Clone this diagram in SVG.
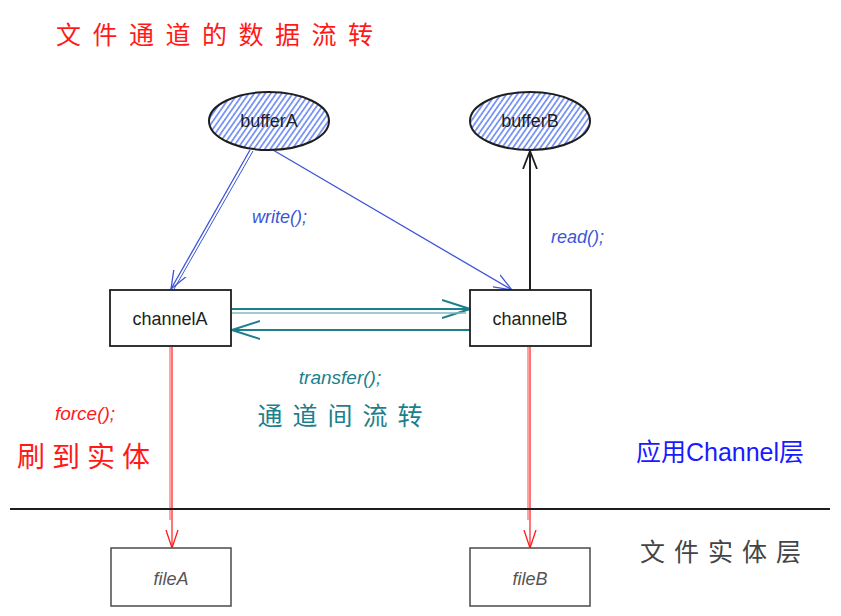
<svg xmlns="http://www.w3.org/2000/svg" width="841" height="616" viewBox="0 0 841 616">
<defs>
<pattern id="hatch" patternUnits="userSpaceOnUse" width="4.5" height="4.5" patternTransform="rotate(35)">
<rect x="0" y="0" width="1.8" height="4.5" fill="#7a95f5"/>
</pattern>
<marker id="mBlue" markerWidth="20" markerHeight="20" refX="18" refY="10" orient="auto" markerUnits="userSpaceOnUse">
<path d="M0,3 L18,10 L0,17" fill="none" stroke="#3d55d6" stroke-width="1.3"/>
</marker>
<marker id="mBlack" markerWidth="20" markerHeight="20" refX="18" refY="10" orient="auto" markerUnits="userSpaceOnUse">
<path d="M0,3 L18,10 L0,17" fill="none" stroke="#1e1e1e" stroke-width="1.8"/>
</marker>
<marker id="mTeal" markerWidth="30" markerHeight="24" refX="28" refY="12" orient="auto" markerUnits="userSpaceOnUse">
<path d="M0,3 L28,12 L0,21" fill="none" stroke="#1d7f8c" stroke-width="2"/>
</marker>
<marker id="mRed" markerWidth="20" markerHeight="20" refX="18" refY="10" orient="auto" markerUnits="userSpaceOnUse">
<path d="M0,4 L18,10 L0,16" fill="none" stroke="#ff1a1a" stroke-width="1.3"/>
</marker>
</defs>
<style>
text{font-family:"Liberation Sans","Noto Sans CJK SC",sans-serif;}
.node{fill:#fff;stroke:#1e1e1e;stroke-width:1.8;}
.file{fill:#fff;stroke:#555;stroke-width:1.6;}
.buf{fill:url(#hatch);stroke:#1e1e1e;stroke-width:2;}
.lbl{font-size:18px;fill:#1e1e1e;text-anchor:middle;}
.flbl{font-size:18px;fill:#555;text-anchor:middle;font-style:italic;}
</style>
<rect width="841" height="616" fill="#fff"/>
<text x="56" y="44" font-size="25" fill="#ff1a1a" letter-spacing="11.5">文件通道的数据流转</text>

<g id="connectors" fill="none">
<path d="M250,150 L171,289" stroke="#3d55d6" stroke-width="1.3" marker-end="url(#mBlue)"/>
<path d="M253,151 L174,289" stroke="#3d55d6" stroke-width="1"/>
<path d="M273,150 L512,290" stroke="#3d55d6" stroke-width="1.3" marker-end="url(#mBlue)"/>
<path d="M530,290 L530,151" stroke="#1e1e1e" stroke-width="2" marker-end="url(#mBlack)"/>
<path d="M232,309 L470,309" stroke="#1d7f8c" stroke-width="2" marker-end="url(#mTeal)"/>
<path d="M232,313 L466,313" stroke="#7fb8c0" stroke-width="1.5"/>
<path d="M470,330 L232,330" stroke="#1d7f8c" stroke-width="2" marker-end="url(#mTeal)"/>
<path d="M172,347 L172,548" stroke="#ff1a1a" stroke-width="1.2" marker-end="url(#mRed)"/>
<path d="M170,347 L170,520" stroke="#ff1a1a" stroke-width="0.8"/>
<path d="M530,347 L530,548" stroke="#ff1a1a" stroke-width="1.2" marker-end="url(#mRed)"/>
<path d="M528,347 L528,520" stroke="#ff1a1a" stroke-width="0.8"/>
</g>

<g id="bufferA"><ellipse class="buf" cx="269" cy="121" rx="60" ry="29"/><text class="lbl" x="269" y="127" font-size="15">bufferA</text></g>
<g id="bufferB"><ellipse class="buf" cx="530" cy="121" rx="60" ry="29"/><text class="lbl" x="530" y="127" font-size="15">bufferB</text></g>
<g id="channelA"><rect class="node" x="110" y="290" width="121" height="56"/><text class="lbl" x="170" y="325">channelA</text></g>
<g id="channelB"><rect class="node" x="470" y="290" width="121" height="56"/><text class="lbl" x="530" y="325">channelB</text></g>
<g id="fileA"><rect class="file" x="111" y="548" width="120" height="58"/><text class="flbl" x="171" y="585">fileA</text></g>
<g id="fileB"><rect class="file" x="470" y="548" width="120" height="58"/><text class="flbl" x="530" y="585">fileB</text></g>

<text x="252" y="223" font-size="18" fill="#3d55d6" font-style="italic">write();</text>
<text x="551" y="243" font-size="18" fill="#3d55d6" font-style="italic">read();</text>
<text x="340" y="384" font-size="19" fill="#1d7f8c" text-anchor="middle" font-style="italic">transfer();</text>
<text x="345" y="425" font-size="25" fill="#1d7f8c" text-anchor="middle" letter-spacing="10">通道间流转</text>
<text x="85" y="420" font-size="19" fill="#ff1a1a" text-anchor="middle" font-style="italic">force();</text>
<text x="87" y="467" font-size="28" fill="#ff1a1a" text-anchor="middle" letter-spacing="7">刷到实体</text>
<text x="720" y="461" font-size="25" fill="#1a1aff" text-anchor="middle">应用Channel层</text>
<text x="725" y="561" font-size="25" fill="#444" text-anchor="middle" letter-spacing="9">文件实体层</text>
<line x1="10" y1="509" x2="830" y2="509" stroke="#1e1e1e" stroke-width="2"/>
</svg>
